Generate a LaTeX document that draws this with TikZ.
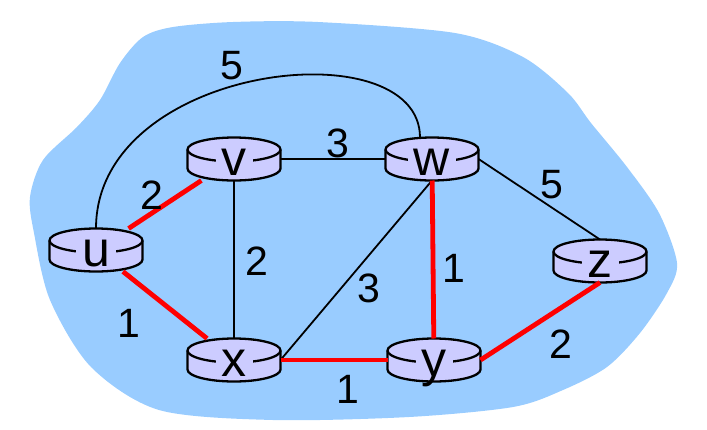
\documentclass[tikz,border=0pt]{standalone}
\usepackage{fontspec}
\setmainfont{Liberation Sans}
\definecolor{cloud}{RGB}{153,204,255}
\definecolor{routerfill}{RGB}{204,204,255}
\tikzset{
  hub/.style={minimum width=93pt, minimum height=43pt, inner sep=0pt, outer sep=0pt},
  shell/.style={draw=black, fill=routerfill, line width=2.3pt},
  tag/.style={fill=routerfill, inner xsep=6pt, inner ysep=1pt,
    font=\fontsize{50}{54}\selectfont, text height=25pt, text depth=0pt},
  wt/.style={font=\fontsize{41}{45}\selectfont},
  link/.style={line width=1.8pt},
  tree/.style={red, line width=4.8pt},
}
\newcommand{\netrouter}[3]{%
  \node[hub] (#1) at (#2) {};
  \filldraw[shell] ([yshift=9.5pt]#1.west) -- ([yshift=-9.5pt]#1.west)
    arc[start angle=180,end angle=360,x radius=46.5pt,y radius=12pt]
    -- ([yshift=9.5pt]#1.east)
    arc[start angle=0,end angle=180,x radius=46.5pt,y radius=12pt] -- cycle;
  \draw[shell,fill=none] ([yshift=9.5pt]#1.west)
    arc[start angle=180,end angle=360,x radius=46.5pt,y radius=12pt];
  \node[tag] (#1-tag) at ([yshift=-4pt]#1) {#3};
}

\begin{document}
\begin{tikzpicture}[x=1pt,y=-1pt]
  \useasboundingbox (0,0) rectangle (707,429);
  \fill[cloud] plot[smooth cycle] coordinates {
    (30,197) (43,160) (77,127) (100,100) (120,63) (143,37) (173,27)
    (233,22) (318,22) (455,33) (523,57) (568,93) (591,123) (627,167)
    (659,213) (677,263) (667,293) (640,333) (607,367) (563,390)
    (513,407) (409,417) (273,420) (159,410) (91,367) (50,300) (34,233)};

  \netrouter{u}{96,250}{u}
  \netrouter{v}{234,159}{v}
  \netrouter{w}{432,159}{w}
  \netrouter{x}{234,360}{x}
  \netrouter{y}{434,360}{y}
  \netrouter{z}{600,261}{z}

  \draw[link] (u.north) .. controls +(0,-165) and +(0,-110) .. ([xshift=-12pt]w.north);
  \draw[link] (v) -- (w);
  \draw[link] (v) -- (x);
  \draw[link] (w.south) -- (x.east);
  \draw[link] (w.east) -- (z.north);
  \draw[tree] (u) -- (v);
  \draw[tree] (u) -- (x);
  \draw[tree] (w) -- (y);
  \draw[tree] (x) -- (y);
  \draw[tree] (y.east) -- (z.south);

  \node[wt] (cuw) at (232,66) {5};
  \node[wt] (cvw) at (338,143) {3};
  \node[wt] (cuv) at (152,195) {2};
  \node[wt] (cvx) at (257,261) {2};
  \node[wt] (cwx) at (369,288) {3};
  \node[wt] (cwy) at (454,268) {1};
  \node[wt] (cwz) at (552,185) {5};
  \node[wt] (cux) at (129,323) {1};
  \node[wt] (cxy) at (348,389) {1};
  \node[wt] (cyz) at (561,344) {2};
\end{tikzpicture}
\end{document}
